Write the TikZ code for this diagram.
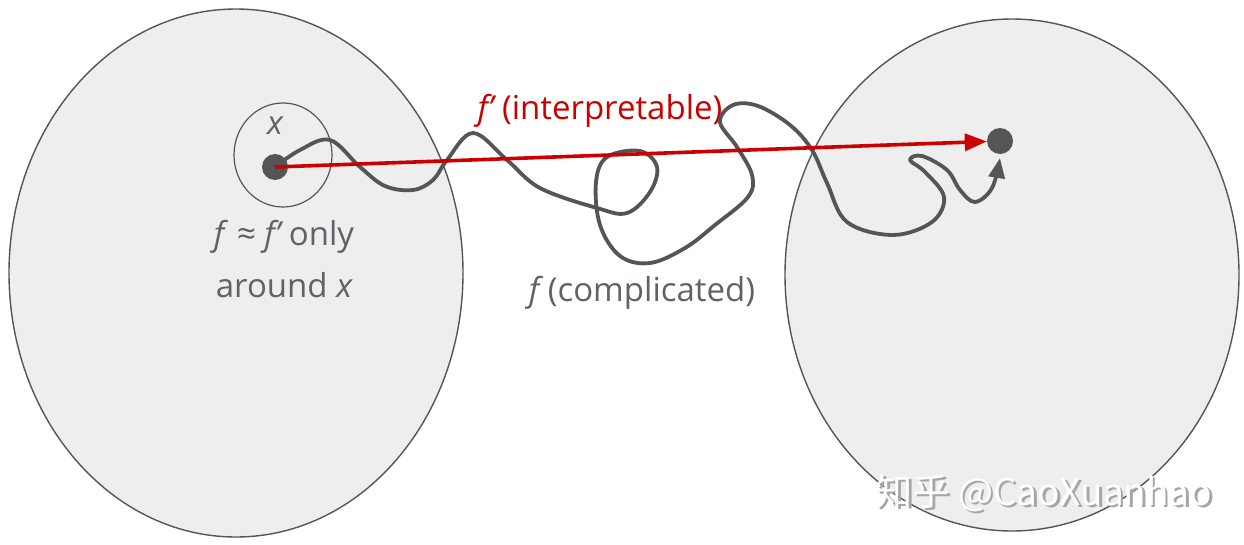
\documentclass[tikz,border=0pt]{standalone}
\usepackage{fontspec}
\setmainfont{Open Sans}
\newfontfamily\cjkfont{Noto Sans CJK SC}
\usetikzlibrary{arrows.meta}
\definecolor{fillgray}{HTML}{EEEEEE}
\definecolor{linegray}{HTML}{555555}
\definecolor{txtgray}{HTML}{5F6368}
\definecolor{fred}{HTML}{CC0000}
\newcommand{\wmtext}{知乎\ @CaoXuanhao}
\tikzset{
  domainell/.style={draw=linegray, fill=fillgray, line width=1.4pt},
  dotnode/.style={circle, fill=linegray, inner sep=0pt, minimum size=26pt},
  lbl/.style={text=txtgray, font=\fontsize{33}{40}\selectfont, inner sep=0pt},
  curvef/.style={draw=linegray, line width=3.8pt, line cap=round, line join=round},
  wmark/.style={font=\fontsize{37}{44}\selectfont\cjkfont, inner sep=0pt},
}
\begin{document}
\begin{tikzpicture}[x=1pt, y=-1pt]
\useasboundingbox (0,0) rectangle (1244,544);
% domains
\draw[domainell] (236,273) ellipse [x radius=227, y radius=264];
\draw[domainell] (1012,275) ellipse [x radius=227, y radius=256];
% neighbourhood
\draw[draw=linegray, line width=1.2pt] (283,155) ellipse [x radius=49, y radius=52];
\node[dotnode] (xd) at (275,167) {};
\node[dotnode] (yd) at (1000,141) {};
\node[lbl] (xl) at (275,126) {\itshape x};
\node[lbl] (approx) at (284,237) {\itshape f\/\upshape\ ≈ \itshape f’\upshape\ only};
\node[lbl] (around) at (284,285) {around \itshape x};
\node[lbl, text=fred] (fp) at (600,111) {\itshape f’\upshape\ (interpretable)};
\node[lbl] (fc) at (642,293) {\itshape f\upshape\ (complicated)};
% complicated f
\draw[curvef, -{Triangle[length=20pt,width=16pt]}] plot[smooth, tension=0.6] coordinates {
 (xd.center) (300,150) (330,140) (360,167) (385,186) (413,190) (433,180) (447,160)
 (473,133) (507,160) (540,188) (597,208) (627,213) (650,192) (657,167) (640,151)
 (607,157) (596,182) (600,225) (620,256) (650,263) (685,248) (715,225) (748,197)
 (752,175) (737,147) (720,122) (733,105) (758,106) (790,125) (812,150) (827,183)
 (847,222) (893,235) (932,222) (944,197) (925,172) (910,160) (922,156) (947,170)
 (960,190) (975,202) (992,188) (1000,158)};
% red arrow
\draw[fred, line width=3.6pt, -{Triangle[length=22pt,width=17pt]}] (xd.center) -- (yd);
% watermark (white text with grey drop shadow)
\node[wmark] (wm) at (1044,494) {\makebox[0pt][l]{\hspace{2.5pt}\raisebox{-2.5pt}{\color{gray!70}\wmtext}}\color{white}\wmtext};
\end{tikzpicture}
\end{document}
